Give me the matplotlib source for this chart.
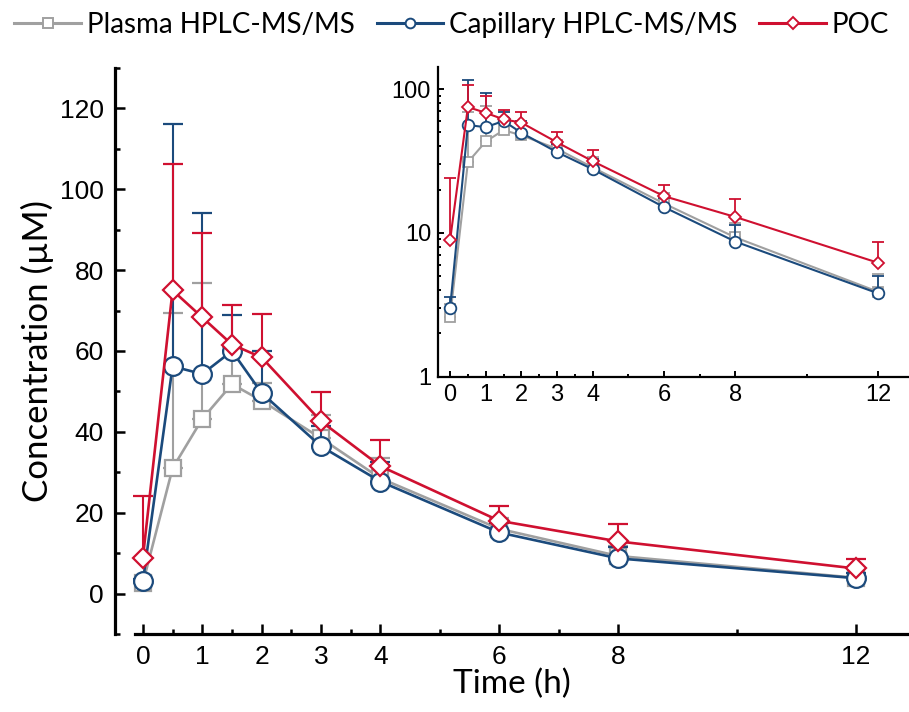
import matplotlib
matplotlib.use("Agg")
import matplotlib.pyplot as plt
from matplotlib.lines import Line2D
from matplotlib.ticker import FixedLocator, LogLocator, NullFormatter
import numpy as np

# ---------------- data ----------------
time_h = [0, 0.5, 1, 1.5, 2, 3, 4, 6, 8, 12]
series_names = ["Plasma HPLC-MS/MS", "Capillary HPLC-MS/MS", "POC"]

plasma_mean = [2.6, 31.0, 43.2, 51.8, 47.7, 38.4, 28.5, 16.0, 9.3, 3.9]
plasma_sd = [0.6, 38.5, 33.6, 9.2, 4.3, 5.8, 5.0, 2.8, 2.5, 1.3]

capillary_mean = [3.0, 56.2, 54.3, 60.0, 49.6, 36.4, 27.7, 15.1, 8.7, 3.8]
capillary_sd = [0.6, 59.9, 39.9, 8.8, 10.4, 5.1, 4.8, 2.4, 2.7, 1.2]

poc_mean = [8.9, 75.0, 68.3, 61.6, 58.4, 42.6, 31.5, 18.0, 12.9, 6.2]
poc_sd = [15.3, 31.3, 20.9, 9.8, 10.7, 7.3, 6.4, 3.6, 4.2, 2.4]

x_major = [0, 1, 2, 3, 4, 6, 8, 12]
x_minor = [0.5, 1.5, 2.5, 3.5, 5, 7, 10]
y_major = [0, 20, 40, 60, 80, 100, 120]
y_minor = [-10, 10, 30, 50, 70, 90, 110, 130]
inset_y_major = [1, 10, 100]

# ---------------- style ----------------
GRAY = "#a0a0a0"
BLUE = "#1b4a7c"
RED = "#cf1030"
TEXT_FONT = ["Lato", "DejaVu Sans"]
TICK_FONT = ["Liberation Sans", "DejaVu Sans"]

styles = [
    dict(color=GRAY, marker="s", ms=11, z=2),
    dict(color=BLUE, marker="o", ms=13.5, z=3),
    dict(color=RED, marker="D", ms=10.5, z=4),
]
means = [plasma_mean, capillary_mean, poc_mean]
sds = [plasma_sd, capillary_sd, poc_sd]

fig = plt.figure(figsize=(9.09, 7.12), dpi=100)

# ---------------- main axes ----------------
ax = fig.add_axes([0.1265, 0.1096, 0.8735, 0.7949])
for m, s, st in zip(means, sds, styles):
    ax.errorbar(time_h, m, yerr=[np.zeros(len(s)), s], color=st["color"],
                marker=st["marker"], ms=st["ms"], mfc="white", mec=st["color"],
                mew=1.6, lw=1.9, elinewidth=1.5, capsize=7, capthick=1.5,
                zorder=st["z"], clip_on=False)

ax.set_xlim(-0.47, 12.9)
ax.set_ylim(-10, 130)
ax.spines["top"].set_visible(False)
ax.spines["right"].set_visible(False)
ax.spines["left"].set_linewidth(2.3)
ax.spines["bottom"].set_linewidth(2.3)
ax.spines["bottom"].set_bounds(-0.13, 12.9)
ax.xaxis.set_major_locator(FixedLocator(x_major))
ax.xaxis.set_minor_locator(FixedLocator(x_minor))
ax.yaxis.set_major_locator(FixedLocator(y_major))
ax.yaxis.set_minor_locator(FixedLocator(y_minor))
ax.tick_params(which="major", direction="in", length=7, width=1.8, pad=8)
ax.tick_params(which="minor", direction="in", length=3.5, width=1.8)
for lab in ax.get_xticklabels() + ax.get_yticklabels():
    lab.set_family(TICK_FONT)
    lab.set_fontsize(19)
ax.set_xlabel("Time (h)", family=TEXT_FONT, fontsize=24, labelpad=0)
ax.set_ylabel("Concentration (\u00b5M)", family=TEXT_FONT, fontsize=25, labelpad=4)

# ---------------- inset ----------------
ins = fig.add_axes([0.4818, 0.4709, 0.5182, 0.4354])
for m, s, st in zip(means, sds, styles):
    ins.errorbar(time_h, m, yerr=[np.zeros(len(s)), s], color=st["color"],
                 marker=st["marker"], ms=st["ms"] * 0.62, mfc="white", mec=st["color"],
                 mew=1.3, lw=1.5, elinewidth=1.3, capsize=4.5, capthick=1.3,
                 zorder=st["z"], clip_on=False)
ins.set_yscale("log")
ins.set_xlim(-0.34, 12.87)
ins.set_ylim(1, 143)
ins.patch.set_alpha(0)
ins.spines["top"].set_visible(False)
ins.spines["right"].set_visible(False)
ins.spines["left"].set_linewidth(1.6)
ins.spines["bottom"].set_linewidth(1.6)
ins.xaxis.set_major_locator(FixedLocator(x_major))
ins.xaxis.set_minor_locator(FixedLocator(x_minor))
ins.yaxis.set_major_locator(FixedLocator(inset_y_major))
ins.yaxis.set_minor_locator(LogLocator(base=10, subs=np.arange(2, 10)))
ins.yaxis.set_minor_formatter(NullFormatter())
ins.set_yticklabels([str(v) for v in inset_y_major])
ins.tick_params(which="major", direction="in", length=4.5, width=1.4, pad=5)
ins.tick_params(which="minor", direction="in", length=2.5, width=1.4)
for lab in ins.get_xticklabels() + ins.get_yticklabels():
    lab.set_family(TICK_FONT)
    lab.set_fontsize(17)

# ---------------- legend ----------------
handles = [Line2D([], [], color=st["color"], marker=st["marker"], ms=7 if st["marker"] != "D" else 6.5,
                  mfc="white", mec=st["color"], mew=1.4, lw=2.2) for st in styles]
fig.legend(handles, series_names, loc="center", bbox_to_anchor=(0.497, 0.965), ncol=3,
           frameon=False, prop={"family": TEXT_FONT, "size": 20}, handlelength=2.4,
           handletextpad=0.2, columnspacing=0.8, borderaxespad=0)

fig.savefig("out.png", dpi=100)
